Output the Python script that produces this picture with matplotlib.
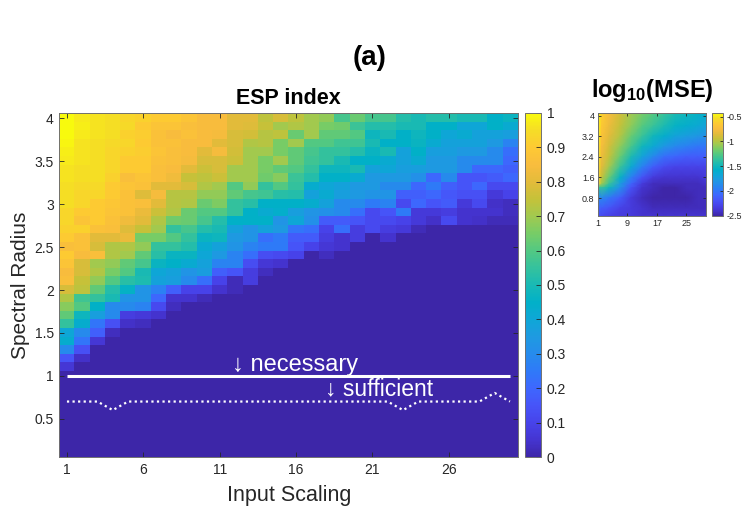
import numpy as np
import matplotlib
matplotlib.use("Agg")
import matplotlib.pyplot as plt
from matplotlib.colors import LinearSegmentedColormap

plt.rcParams['font.family'] = ['Liberation Sans', 'DejaVu Sans']
plt.rcParams['mathtext.fontset'] = 'custom'
plt.rcParams['mathtext.rm'] = 'Liberation Sans'
plt.rcParams['mathtext.bf'] = 'Liberation Sans:bold'

# ESP index (percent), rows from spectral radius 4.0 down to 0.1, columns input scaling 1..30
esp_rows = [
    [100, 97, 96, 95, 93, 92, 90, 90, 88, 85, 85, 80, 80, 74, 78, 74, 70, 68, 58, 63, 58, 58, 52, 50, 52, 52, 50, 50, 45, 47],
    [100, 98, 96, 95, 94, 90, 88, 88, 86, 85, 85, 80, 79, 75, 70, 72, 70, 65, 64, 56, 52, 52, 50, 50, 45, 45, 40, 40, 45, 42],
    [100, 97, 96, 95, 92, 91, 87, 85, 87, 85, 84, 78, 77, 73, 74, 63, 70, 62, 62, 60, 48, 50, 45, 48, 45, 40, 42, 38, 38, 37],
    [99, 96, 95, 94, 93, 90, 87, 87, 85, 85, 80, 78, 72, 73, 65, 70, 60, 60, 57, 57, 50, 45, 45, 47, 42, 38, 38, 38, 35, 28],
    [98, 96, 95, 93, 92, 91, 88, 86, 85, 80, 84, 77, 70, 70, 65, 62, 58, 55, 55, 52, 47, 50, 38, 45, 37, 37, 35, 35, 30, 22],
    [97, 96, 95, 93, 90, 90, 87, 86, 84, 78, 78, 76, 70, 65, 70, 62, 57, 55, 50, 45, 45, 42, 38, 42, 35, 35, 30, 30, 30, 20],
    [96, 95, 95, 93, 90, 90, 86, 85, 80, 76, 78, 70, 70, 65, 62, 60, 55, 48, 48, 50, 38, 40, 37, 37, 35, 35, 30, 20, 20, 18],
    [96, 95, 95, 92, 86, 88, 86, 83, 75, 74, 76, 70, 70, 64, 67, 56, 52, 45, 45, 42, 35, 35, 35, 32, 20, 30, 15, 15, 17, 20],
    [95, 94, 94, 90, 88, 87, 80, 80, 78, 72, 70, 60, 68, 55, 60, 55, 43, 40, 38, 35, 35, 30, 30, 20, 25, 18, 15, 20, 12, 12],
    [95, 93, 93, 90, 87, 79, 84, 73, 73, 68, 68, 62, 58, 57, 53, 52, 38, 42, 37, 35, 33, 33, 18, 18, 20, 16, 14, 14, 7, 10],
    [95, 93, 90, 89, 87, 86, 80, 73, 72, 63, 66, 55, 53, 45, 45, 45, 43, 38, 30, 30, 25, 28, 12, 20, 15, 17, 7, 12, 4, 3],
    [93, 90, 90, 88, 87, 82, 76, 72, 63, 60, 60, 55, 45, 42, 44, 37, 33, 32, 30, 22, 12, 15, 25, 7, 7, 8, 5, 5, 5, 3],
    [93, 88, 90, 87, 83, 80, 72, 64, 63, 58, 52, 45, 45, 45, 33, 40, 32, 17, 17, 15, 12, 12, 10, 7, 4, 12, 5, 4, 2, 2],
    [92, 92, 87, 86, 79, 75, 70, 55, 58, 52, 50, 38, 33, 38, 35, 24, 22, 10, 22, 8, 12, 8, 7, 2, 0, 0, 0, 0, 0, 0],
    [90, 87, 80, 80, 82, 65, 65, 60, 55, 47, 48, 35, 33, 22, 25, 17, 17, 8, 5, 8, 0, 5, 0, 0, 0, 0, 0, 0, 0, 0],
    [86, 87, 78, 72, 72, 68, 55, 55, 52, 42, 38, 33, 28, 25, 25, 15, 10, 6, 5, 0, 0, 0, 0, 0, 0, 0, 0, 0, 0, 0],
    [90, 85, 86, 72, 70, 62, 53, 47, 47, 40, 35, 28, 22, 13, 12, 10, 0, 3, 0, 0, 0, 0, 0, 0, 0, 0, 0, 0, 0, 0],
    [88, 78, 70, 68, 62, 58, 47, 45, 42, 38, 28, 28, 13, 6, 5, 0, 0, 0, 0, 0, 0, 0, 0, 0, 0, 0, 0, 0, 0, 0],
    [85, 78, 72, 65, 60, 50, 40, 38, 33, 36, 18, 15, 8, 3, 0, 0, 0, 0, 0, 0, 0, 0, 0, 0, 0, 0, 0, 0, 0, 0],
    [86, 75, 68, 60, 53, 51, 38, 37, 30, 22, 10, 2, 8, 0, 0, 0, 0, 0, 0, 0, 0, 0, 0, 0, 0, 0, 0, 0, 0, 0],
    [78, 74, 62, 52, 46, 33, 27, 18, 10, 10, 5, 2, 0, 0, 0, 0, 0, 0, 0, 0, 0, 0, 0, 0, 0, 0, 0, 0, 0, 0],
    [72, 57, 55, 50, 33, 33, 20, 5, 5, 2, 0, 0, 0, 0, 0, 0, 0, 0, 0, 0, 0, 0, 0, 0, 0, 0, 0, 0, 0, 0],
    [67, 60, 45, 30, 30, 28, 12, 3, 0, 0, 0, 0, 0, 0, 0, 0, 0, 0, 0, 0, 0, 0, 0, 0, 0, 0, 0, 0, 0, 0],
    [62, 48, 37, 30, 8, 7, 5, 0, 0, 0, 0, 0, 0, 0, 0, 0, 0, 0, 0, 0, 0, 0, 0, 0, 0, 0, 0, 0, 0, 0],
    [55, 43, 24, 14, 4, 3, 0, 0, 0, 0, 0, 0, 0, 0, 0, 0, 0, 0, 0, 0, 0, 0, 0, 0, 0, 0, 0, 0, 0, 0],
    [40, 30, 18, 3, 0, 0, 0, 0, 0, 0, 0, 0, 0, 0, 0, 0, 0, 0, 0, 0, 0, 0, 0, 0, 0, 0, 0, 0, 0, 0],
    [43, 24, 6, 0, 0, 0, 0, 0, 0, 0, 0, 0, 0, 0, 0, 0, 0, 0, 0, 0, 0, 0, 0, 0, 0, 0, 0, 0, 0, 0],
    [30, 14, 0, 0, 0, 0, 0, 0, 0, 0, 0, 0, 0, 0, 0, 0, 0, 0, 0, 0, 0, 0, 0, 0, 0, 0, 0, 0, 0, 0],
    [15, 4, 0, 0, 0, 0, 0, 0, 0, 0, 0, 0, 0, 0, 0, 0, 0, 0, 0, 0, 0, 0, 0, 0, 0, 0, 0, 0, 0, 0],
    [6, 0, 0, 0, 0, 0, 0, 0, 0, 0, 0, 0, 0, 0, 0, 0, 0, 0, 0, 0, 0, 0, 0, 0, 0, 0, 0, 0, 0, 0],
]
# spectral radius 1.0 .. 0.1 are all zero
esp_zero_rows = 10

# necessary / sufficient bounds
nec_x = [1, 30]
nec_y = [1, 1]
suff_x = list(range(1, 31))
suff_y = [0.7, 0.7, 0.7, 0.6, 0.7, 0.7, 0.7, 0.7, 0.7, 0.7,
          0.7, 0.7, 0.7, 0.7, 0.7, 0.7, 0.7, 0.7, 0.7, 0.7,
          0.7, 0.7, 0.6, 0.7, 0.7, 0.7, 0.7, 0.7, 0.8, 0.7]

# log10(MSE) inset, coarse grid
mse_x = [1, 2, 4, 7, 10, 13, 16, 19, 22, 25, 28, 30.3]
mse_y = [4.09, 3.6, 3.2, 2.8, 2.4, 2.0, 1.6, 1.35, 1.2, 0.8, 0.4, 0.12]
mse = [
    [-0.45, -0.6, -0.75, -0.9, -1.05, -1.15, -1.25, -1.35, -1.45, -1.5, -1.55, -1.6],
    [-0.45, -0.65, -0.8, -0.95, -1.1, -1.25, -1.35, -1.45, -1.55, -1.6, -1.65, -1.7],
    [-0.45, -0.7, -0.85, -1.0, -1.2, -1.35, -1.5, -1.6, -1.7, -1.75, -1.8, -1.85],
    [-0.5, -0.75, -0.9, -1.1, -1.3, -1.5, -1.65, -1.8, -1.9, -1.95, -2.0, -2.0],
    [-0.5, -0.8, -0.95, -1.2, -1.45, -1.7, -1.9, -2.05, -2.1, -2.15, -2.15, -2.15],
    [-0.55, -0.85, -1.05, -1.35, -1.65, -1.95, -2.15, -2.25, -2.3, -2.3, -2.3, -2.3],
    [-0.6, -0.95, -1.2, -1.55, -1.95, -2.2, -2.35, -2.4, -2.4, -2.4, -2.4, -2.35],
    [-0.6, -1.05, -1.35, -1.75, -2.1, -2.35, -2.45, -2.45, -2.45, -2.45, -2.45, -2.4],
    [-1.4, -1.35, -1.5, -1.85, -2.2, -2.4, -2.45, -2.5, -2.5, -2.45, -2.45, -2.45],
    [-1.9, -1.9, -2.0, -2.15, -2.35, -2.45, -2.5, -2.5, -2.5, -2.5, -2.45, -2.45],
    [-2.1, -2.15, -2.2, -2.3, -2.35, -2.4, -2.45, -2.45, -2.45, -2.45, -2.45, -2.45],
    [-2.2, -2.25, -2.3, -2.35, -2.35, -2.4, -2.4, -2.4, -2.4, -2.4, -2.4, -2.4],
]

# parula-like colormap
parula = LinearSegmentedColormap.from_list('parula', [
    (0.00, (0.2422, 0.1504, 0.6603)), (0.05, (0.2691, 0.2072, 0.8210)),
    (0.10, (0.2800, 0.2650, 0.9190)), (0.15, (0.2780, 0.3320, 0.9750)),
    (0.20, (0.2420, 0.4050, 0.9960)), (0.25, (0.1840, 0.4780, 0.9730)),
    (0.30, (0.1510, 0.5470, 0.9260)), (0.35, (0.1190, 0.6050, 0.8820)),
    (0.40, (0.0580, 0.6530, 0.8410)), (0.45, (0.0060, 0.6910, 0.7850)),
    (0.50, (0.0960, 0.7270, 0.7090)), (0.55, (0.2060, 0.7600, 0.6170)),
    (0.60, (0.3240, 0.7850, 0.5120)), (0.65, (0.4670, 0.8020, 0.4030)),
    (0.70, (0.6330, 0.7900, 0.3120)), (0.75, (0.7720, 0.7600, 0.2250)),
    (0.80, (0.8900, 0.7350, 0.2300)), (0.85, (0.9750, 0.7400, 0.2420)),
    (0.90, (0.9940, 0.7900, 0.2020)), (0.95, (0.9630, 0.8650, 0.1500)),
    (1.00, (0.9763, 0.9831, 0.0538))])

dark = '#262626'
edge = '#707070'


def style_axes(ax, size):
  ax.tick_params(direction='in', length=3.5, width=0.6, colors=dark,
                 labelsize=size, top=True, right=True, pad=4)
  for s in ax.spines.values():
    s.set_color(edge)
    s.set_linewidth(0.7)


esp = np.array(esp_rows + [[0] * 30] * esp_zero_rows) / 100.0

fig = plt.figure(figsize=(7.47, 5.14), dpi=100)

ax = fig.add_axes([0.0794, 0.1103, 0.6145, 0.6693])
im = ax.imshow(esp, cmap=parula, vmin=0, vmax=1, aspect='auto',
               extent=(0.5, 30.5, 0.05, 4.05), origin='upper',
               interpolation='nearest')
ax.plot(nec_x, nec_y, color='white', lw=2.2, solid_capstyle='butt')
ax.plot(suff_x, suff_y, color='white', lw=1.6, dashes=(1, 1.5),
        dash_capstyle='butt')
ax.text(11.8, 1.06, '\u2193 necessary', color='white', fontsize=17,
        va='baseline')
ax.text(17.9, 0.77, '\u2193 sufficient', color='white', fontsize=16.5,
        va='baseline')
ax.set_xlim(0.5, 30.55)
ax.set_ylim(0.05, 4.06)
ax.set_xticks([1, 6, 11, 16, 21, 26])
ax.set_yticks([0.5, 1, 1.5, 2, 2.5, 3, 3.5, 4])
ax.set_yticklabels(['0.5', '1', '1.5', '2', '2.5', '3', '3.5', '4'])
style_axes(ax, 10)
ax.set_xlabel('Input Scaling', fontsize=15.5, color=dark, labelpad=6)
ax.set_ylabel('Spectral Radius', fontsize=15, color=dark, labelpad=3)
ax.set_title('ESP index', fontsize=15.5, fontweight='bold', pad=7)

cax = fig.add_axes([0.7028, 0.1103, 0.0214, 0.6705])
cb = fig.colorbar(im, cax=cax, ticks=np.arange(0, 1.01, 0.1))
cb.ax.set_yticklabels(['0', '0.1', '0.2', '0.3', '0.4', '0.5', '0.6',
                       '0.7', '0.8', '0.9', '1'])
cb.ax.tick_params(direction='in', length=3.5, width=0.6, colors=dark,
                  labelsize=10, pad=4)
cb.outline.set_edgecolor(edge)
cb.outline.set_linewidth(0.7)

ax2 = fig.add_axes([0.8005, 0.5807, 0.1446, 0.1989])
mesh = ax2.pcolormesh(mse_x, mse_y, np.array(mse), shading='gouraud',
                      cmap=parula, vmin=-2.5, vmax=-0.43)
ax2.set_xlim(1, 30.3)
ax2.set_ylim(0.12, 4.09)
ax2.set_xticks([1, 9, 17, 25])
ax2.set_yticks([0.8, 1.6, 2.4, 3.2, 4])
ax2.set_yticklabels(['0.8', '1.6', '2.4', '3.2', '4'])
style_axes(ax2, 6.5)
ax2.tick_params(length=2, pad=2.5)

cax2 = fig.add_axes([0.9527, 0.5807, 0.0155, 0.1989])
cb2 = fig.colorbar(mesh, cax=cax2, ticks=[-2.5, -2, -1.5, -1, -0.5])
cb2.ax.set_yticklabels(['-2.5', '-2', '-1.5', '-1', '-0.5'])
cb2.ax.tick_params(direction='in', length=2, width=0.6, colors=dark,
                   labelsize=6.5, pad=2.5)
cb2.outline.set_edgecolor(edge)
cb2.outline.set_linewidth(0.7)

fig.text(652 / 747, 1 - 97 / 514, r'$\mathbf{log_{10}(MSE)}$', fontsize=17,
         ha='center', va='baseline')
fig.text(0.495, 0.887, '(a)', fontsize=20, fontweight='bold',
         ha='center', va='center')

fig.savefig('out.png', dpi=100)
